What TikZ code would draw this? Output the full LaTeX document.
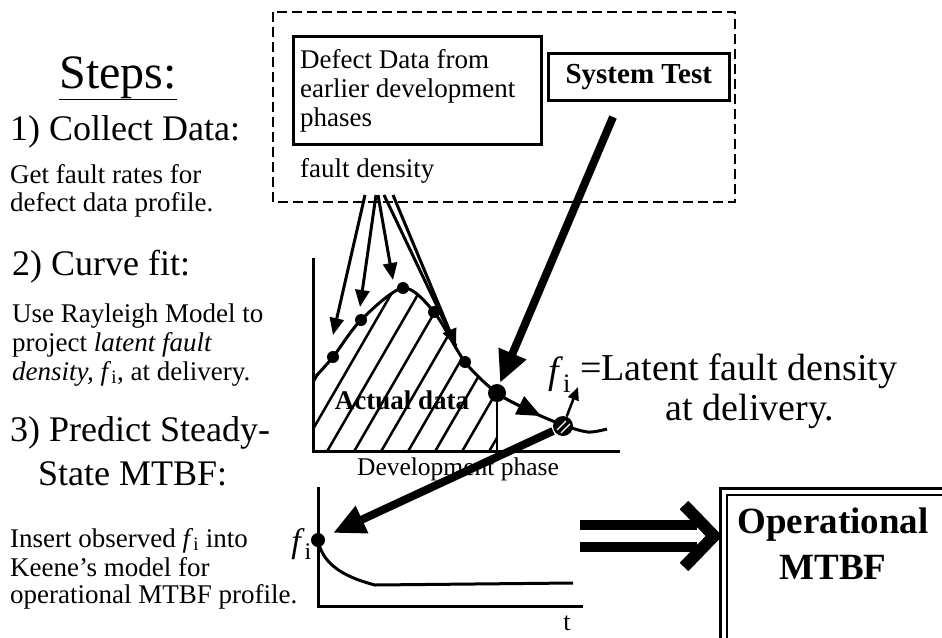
\documentclass[tikz,border=0pt]{standalone}
\usepackage{fontspec}
\setmainfont{Liberation Serif}
\usetikzlibrary{arrows.meta}
\newcommand\fsz[1]{\fontsize{#1}{#1}\selectfont}
\newcommand\fisub{\textit{f}\textsubscript{i}}
\tikzset{
  txt/.style={inner sep=0pt, anchor=base west},
  stepshead/.style={txt, font=\fsz{36}},
  bodytxt/.style={txt, font=\fsz{27}},
  boxline/.style={line width=2.5pt},
  darrow/.style={line width=3pt, -{Triangle[length=17pt,width=14pt]}},
  bigarrow/.style={line width=8pt, -{Triangle[length=32pt,width=28pt]}},
  dot/.style={circle, fill, inner sep=0pt, minimum size=12pt},
  axisline/.style={line width=3pt},
}
\begin{document}
\begin{tikzpicture}[x=1pt,y=-1pt]
\useasboundingbox (0,0) rectangle (942,637);
% ---------- left column ----------
\node[inner sep=0pt, anchor=base, font=\fsz{48}] (steps) at (118,88) {\underline{Steps:}};
\node[stepshead] (s1) at (10,140) {1) Collect Data:};
\node[bodytxt] (s1a) at (10,183) {Get fault rates for};
\node[bodytxt] (s1b) at (10,211) {defect data profile.};
\node[stepshead] (s2) at (12,275) {2) Curve fit:};
\node[bodytxt] (s2a) at (12,322) {Use Rayleigh Model to};
\node[bodytxt] (s2b) at (12,351) {project \textit{latent fault}};
\node[bodytxt] (s2c) at (12,380) {\textit{density,} \fisub, at delivery.};
\node[stepshead] (s3) at (10,441) {3) Predict Steady-};
\node[stepshead] (s3b) at (38,485) {State MTBF:};
\node[bodytxt] (s3c) at (10,547) {Insert observed \fisub\ into};
\node[bodytxt] (s3d) at (10,576) {Keene’s model for};
\node[bodytxt] (s3e) at (10,603) {operational MTBF profile.};
% ---------- data group ----------
\draw[line width=2.5pt, dash pattern=on 10pt off 5pt] (273,12) rectangle (735,202);
\node[draw, boxline, anchor=north west, minimum width=248pt, minimum height=108pt] (defect) at (292,35) {};
\node[bodytxt] (d1) at (300,68) {Defect Data from};
\node[bodytxt] (d2) at (300,97) {earlier development};
\node[bodytxt] (d3) at (300,126) {phases};
\node[draw, boxline, anchor=north west, minimum width=181pt, minimum height=47pt, font=\bfseries\fsz{29}] (systest) at (547,52) {System Test};
\node[bodytxt] (fd) at (300,177) {fault density};
% ---------- Rayleigh graph ----------
\coordinate (ytop) at (313,258);
\coordinate (orig) at (313,451);
\coordinate (xend) at (620,451);
\begin{scope}
  \clip (313,451) -- (313,376) -- plot[smooth] coordinates {(316,376) (333,357) (361,320) (403,288) (434,312) (465,362) (497,393) (530,411) (563,425) (588,432) (607,429)} -- (607,451) -- cycle;
  \clip (313,0) rectangle (497,451);
  \foreach \x in {244,271,...,514} \draw[line width=2.5pt] (\x,455) -- ++(110,-190);
\end{scope}
\draw[axisline] (ytop) -- (orig) -- (xend);
\draw[line width=3pt] plot[smooth] coordinates {(316,376) (333,357) (361,320) (403,288) (434,312) (465,362) (497,393) (530,411) (563,425) (588,432) (607,429)};
\node[dot] (p1) at (333,357) {};
\node[dot] (p2) at (361,320) {};
\node[dot] (p3) at (403,288) {};
\node[dot] (p4) at (434,312) {};
\node[dot] (p5) at (465,362) {};
\node[dot, minimum size=18pt] (p6) at (497,393) {};
\coordinate (p6b) at (497,451);
\draw[line width=2.5pt] (p6) -- (p6b);
\node[inner sep=0pt, font=\bfseries\fsz{27}] (act) at (402,400) {Actual data};
\coordinate (cu1) at (505,398);
\coordinate (cu2) at (541,416);
\draw[line width=2pt, -{Triangle[length=24pt,width=20pt]}] (cu1) -- (cu2);
\node[circle, fill, minimum size=20pt, inner sep=0pt] (hc) at (563,426) {};
\draw[white, line width=1.3pt] (557,430) -- (566,421) (561,433) -- (570,424);
\coordinate (fup) at (578,387);
\draw[line width=2.5pt, -{Triangle[length=13pt,width=11pt]}] (hc) -- (fup);
\node[txt, font=\fsz{38}] (fl) at (548,383) {\fisub};
\node[txt, font=\fsz{38}] (lat1) at (580,380) {=Latent fault density};
\node[inner sep=0pt, anchor=base, font=\fsz{38}] (lat2) at (750,420) {at delivery.};
\node[inner sep=0pt, anchor=base, font=\fsz{25.5}] (devp) at (458,475) {Development phase};
% arrows from fault density
\coordinate (a1) at (365,195); \coordinate (t1) at (333,335);
\coordinate (a2) at (376,195); \coordinate (t2) at (360,307);
\coordinate (a3) at (378,195); \coordinate (t3) at (393,280);
\coordinate (a4) at (384,195); \coordinate (a5) at (393,195); \coordinate (t4) at (456,346);
\draw[darrow] (a1) -- (t1);
\draw[darrow] (a2) -- (t2);
\draw[darrow] (a3) -- (t3);
\draw[line width=3pt] (a4) -- (t4);
\draw[darrow] (a5) -- (t4);
% big arrows
\coordinate (st1) at (613,117); \coordinate (st2) at (500,383);
\draw[bigarrow] (st1) -- (st2);
\coordinate (hc2) at (553,431); \coordinate (fi2) at (333,533);
\draw[bigarrow] (hc2) -- (fi2);
% ---------- MTBF graph ----------
\coordinate (ytop2) at (318,487);
\coordinate (orig2) at (318,606);
\coordinate (xend2) at (583,606);
\draw[axisline] (ytop2) -- (orig2) -- (xend2);
\coordinate (c2a) at (318,540); \coordinate (c2b) at (375,585); \coordinate (c2c) at (573,583);
\draw[line width=3pt] (c2a) .. controls (322,562) and (340,576) .. (c2b) -- (c2c);
\node[dot, minimum size=14pt] (fdot) at (c2a) {};
\node[inner sep=0pt, anchor=base east, font=\fsz{34}] (fil) at (312,552) {\fisub};
\node[inner sep=0pt, anchor=base, font=\fsz{26}] (tl) at (567,630) {t};
% ---------- implies arrow ----------
\coordinate (b1) at (580,525); \coordinate (b2) at (697,525);
\coordinate (b3) at (580,547); \coordinate (b4) at (697,547);
\draw[line width=10pt] (b1) -- (b2) (b3) -- (b4);
\coordinate (h1) at (684,505); \coordinate (h2) at (714,536); \coordinate (h3) at (684,567);
\draw[line width=12pt] (h1) -- (h2) -- (h3);
% ---------- Operational MTBF ----------
\begin{scope}
  \clip (0,0) rectangle (942,637);
  \draw[line width=3pt] (720,488) rectangle (960,660);
  \draw[line width=2pt] (727,495) rectangle (960,660);
\end{scope}
\node[inner sep=0pt, anchor=base, font=\bfseries\fsz{37}] (op1) at (833,533) {Operational};
\node[inner sep=0pt, anchor=base, font=\bfseries\fsz{37}] (op2) at (833,579) {MTBF};
\end{tikzpicture}
\end{document}
